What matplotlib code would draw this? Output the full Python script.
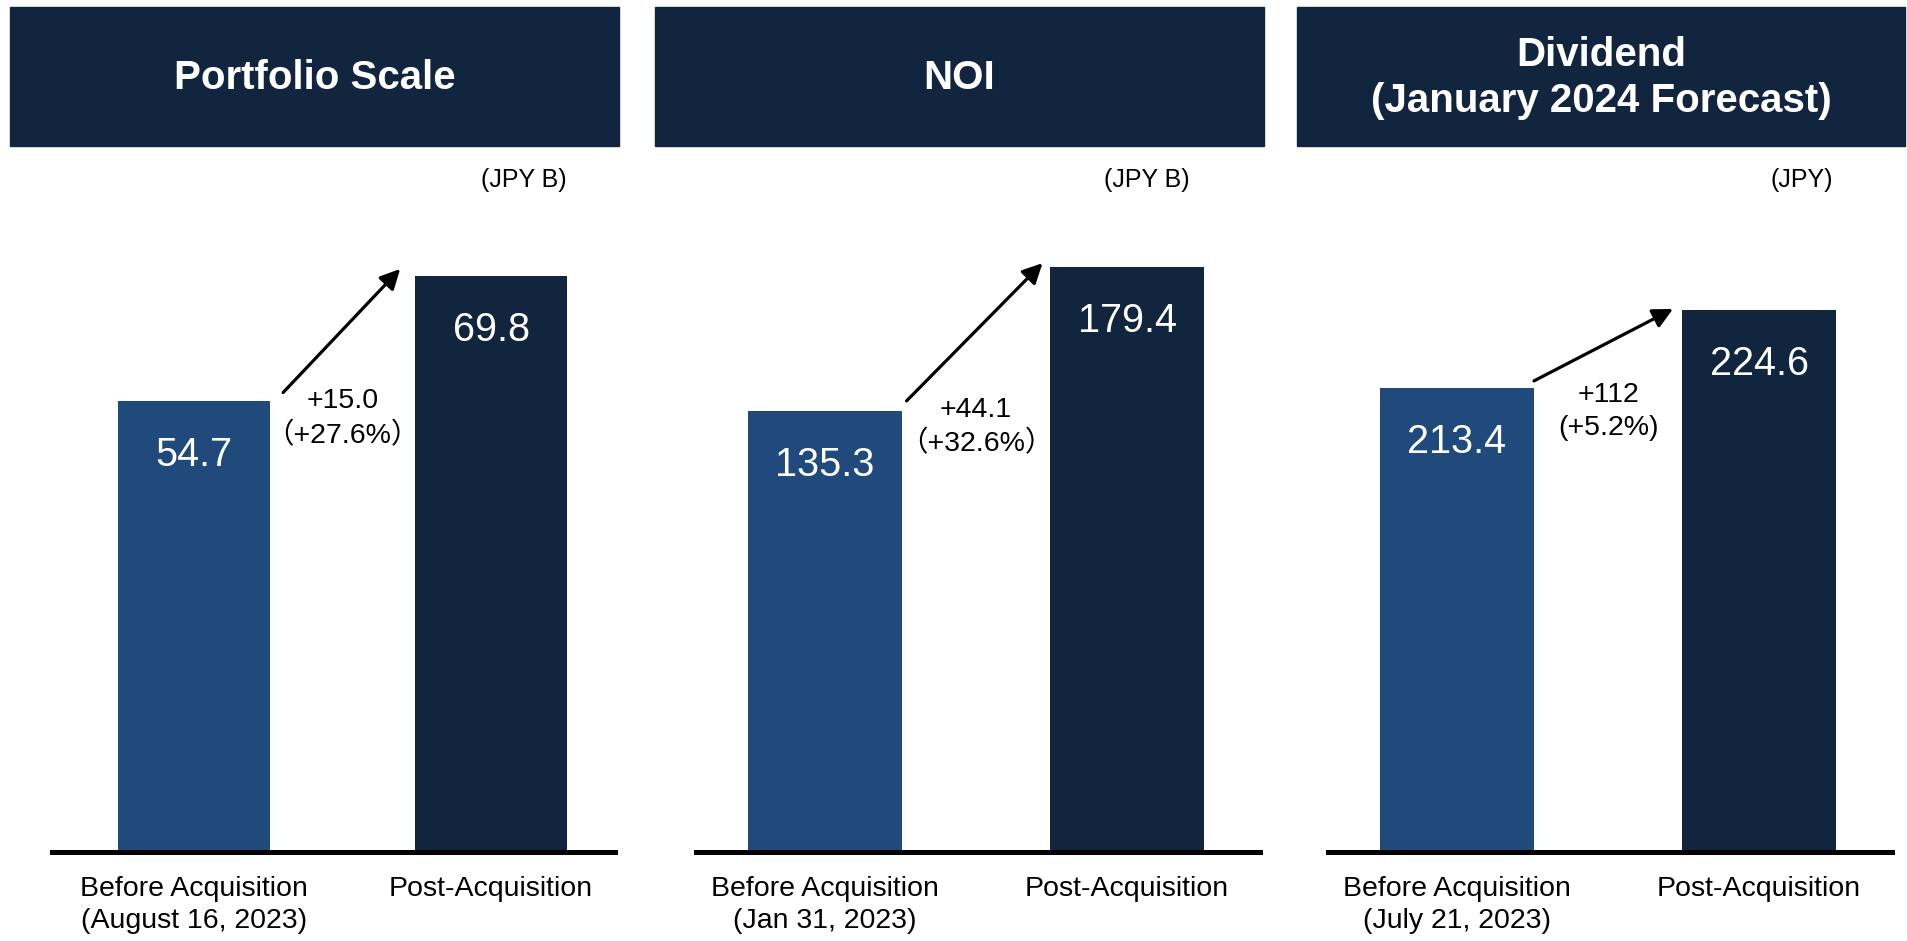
import matplotlib
matplotlib.use("Agg")
from matplotlib import pyplot
from matplotlib.patches import Rectangle

pyplot.rcParams["font.family"] = ["Liberation Sans", "Noto Sans CJK JP", "DejaVu Sans"]

# data
titles = ["Portfolio Scale", "NOI", "Dividend\n(January 2024 Forecast)"]
units = ["(JPY B)", "(JPY B)", "(JPY)"]
categories = [
    ["Before Acquisition\n(August 16, 2023)", "Post-Acquisition"],
    ["Before Acquisition\n(Jan 31, 2023)", "Post-Acquisition"],
    ["Before Acquisition\n(July 21, 2023)", "Post-Acquisition"],
]
before = [54.7, 135.3, 213.4]
after = [69.8, 179.4, 224.6]
change_labels = ["+15.0\n（+27.6%）", "+44.1\n（+32.6%）", "+112\n(+5.2%)"]

# layout (pixels of the 1908x941 canvas)
W, H = 1908, 941
NAVY = "#12253F"
BLUE = "#214A7C"
line_x = [(52, 615), (696, 1260), (1328, 1892)]
box_x = [(10, 619), (655, 1264), (1297, 1905)]
box_y = (7, 146)
xlims = [(-0.478, 1.417), (-0.427, 1.44), (-0.427, 1.44)]
ylims = [(0, 79.0), (0, 200.0), (146.7, 240.4)]
arrow_x = [(0.30, 0.694), (0.27, 0.72), (0.255, 0.715)]
arrow_dy = [(8, 7), (10, 4), (7, 1)]
unit_x = [524, 1147, 1802]
text_drop = [18, 16, 24]
base_px = 852
top_px = 200
PT = 72 / 100  # pixels -> points

fig = pyplot.figure(figsize=(W / 100, H / 100), dpi=100)

for i in range(3):
    x0, x1 = line_x[i]
    ax = fig.add_axes([x0 / W, 1 - base_px / H, (x1 - x0) / W, (base_px - top_px) / H])
    b0 = ylims[i][0]
    ax.bar([0, 1], [before[i] - b0, after[i] - b0], bottom=b0, width=0.51,
           color=[BLUE, NAVY], zorder=1)
    ax.set_xlim(*xlims[i])
    ax.set_ylim(*ylims[i])
    for s in ["top", "left", "right"]:
        ax.spines[s].set_visible(False)
    ax.spines["bottom"].set_linewidth(3.6)
    ax.spines["bottom"].set_zorder(3)
    ax.set_yticks([])
    ax.set_xticks([0, 1])
    ax.set_xticklabels(categories[i], fontsize=20.5, linespacing=1.3)
    ax.tick_params(axis="x", length=0, pad=17)

    ppu = (base_px - top_px) / (ylims[i][1] - ylims[i][0])

    for x, v in zip([0, 1], [before[i], after[i]]):
        ax.annotate(f"{v:.1f}", xy=(x, v), xytext=(0, -54 * PT),
                    textcoords="offset points", ha="center", va="center",
                    color="white", fontsize=28.5)

    xa, xb = arrow_x[i]
    da, db = arrow_dy[i]
    ax.annotate("", xy=(xb, after[i] + db / ppu), xytext=(xa, before[i] + da / ppu),
                arrowprops=dict(arrowstyle="-|>", lw=2.3, color="black",
                                mutation_scale=30, shrinkA=0, shrinkB=0))
    ax.annotate(change_labels[i], xy=(0.5, before[i]), xytext=(0, -text_drop[i] * PT),
                textcoords="offset points", ha="center", va="center",
                fontsize=20.5, linespacing=1.35)

    bx0, bx1 = box_x[i]
    fig.add_artist(Rectangle((bx0 / W, 1 - box_y[1] / H), (bx1 - bx0) / W,
                             (box_y[1] - box_y[0]) / H, transform=fig.transFigure,
                             color=NAVY, zorder=0))
    fig.text((bx0 + bx1) / 2 / W, 1 - 78 / H, titles[i], ha="center", va="center",
             color="white", fontsize=29, fontweight="bold", linespacing=1.25)
    fig.text(unit_x[i] / W, 1 - 180 / H, units[i], ha="center", va="center",
             fontsize=18)

fig.savefig("out.png", dpi=100)
